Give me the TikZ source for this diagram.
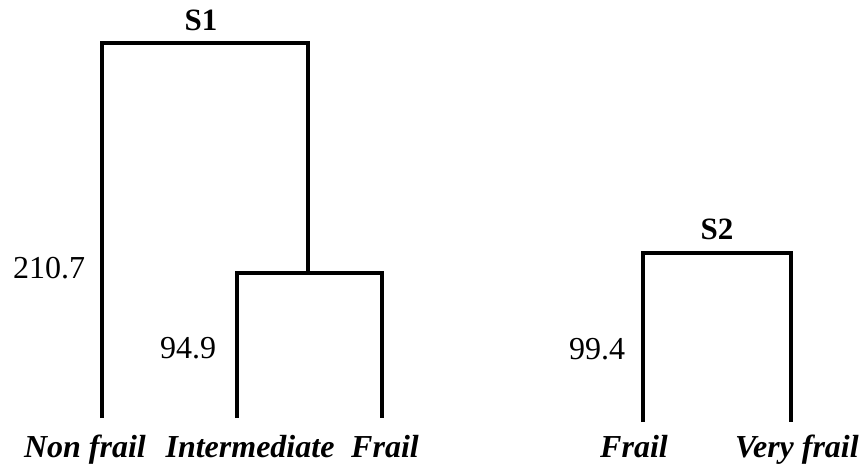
\documentclass[tikz,border=0pt]{standalone}
\usepackage{fontspec}
\setmainfont{Liberation Serif}
\begin{document}
\begin{tikzpicture}[x=1pt,y=-1pt,
  link/.style={line width=3.6pt,line cap=butt,line join=miter},
  leaf/.style={anchor=base,inner sep=0pt,font=\fontsize{32}{36}\selectfont\bfseries\itshape},
  val/.style={inner sep=0pt,font=\fontsize{32}{36}\selectfont},
  cl/.style={inner sep=0pt,font=\fontsize{31}{36}\selectfont\bfseries}]
\useasboundingbox (0,0) rectangle (865,465);
% leaves
\node[leaf] (nf) at (85,457) {Non frail};
\node[leaf] (im) at (250,457) {Intermediate};
\node[leaf] (fr1) at (385,457) {Frail};
\node[leaf] (fr2) at (634,457) {Frail};
\node[leaf] (vf) at (797,457) {Very frail};
% leaf tops
\coordinate (tnf) at (102,418);
\coordinate (tim) at (237,418);
\coordinate (tfr1) at (382,418);
\coordinate (tfr2) at (643,422);
\coordinate (tvf) at (791,422);
% joins
\coordinate (j1) at (308,273);
\coordinate (j2) at (205,43);
\coordinate (j3) at (717,253);
% S1
\draw[link] (tim) |- (j1) -| (tfr1);
\draw[link] (tnf) |- (j2) -| (j1);
% S2
\draw[link] (tfr2) |- (j3) -| (tvf);
% labels
\node[cl] (s1) at (201,20) {S1};
\node[cl] (s2) at (717,229) {S2};
\node[val] (v1) at (49,268) {210.7};
\node[val] (v2) at (188,348) {94.9};
\node[val] (v3) at (597,349) {99.4};
\end{tikzpicture}
\end{document}
